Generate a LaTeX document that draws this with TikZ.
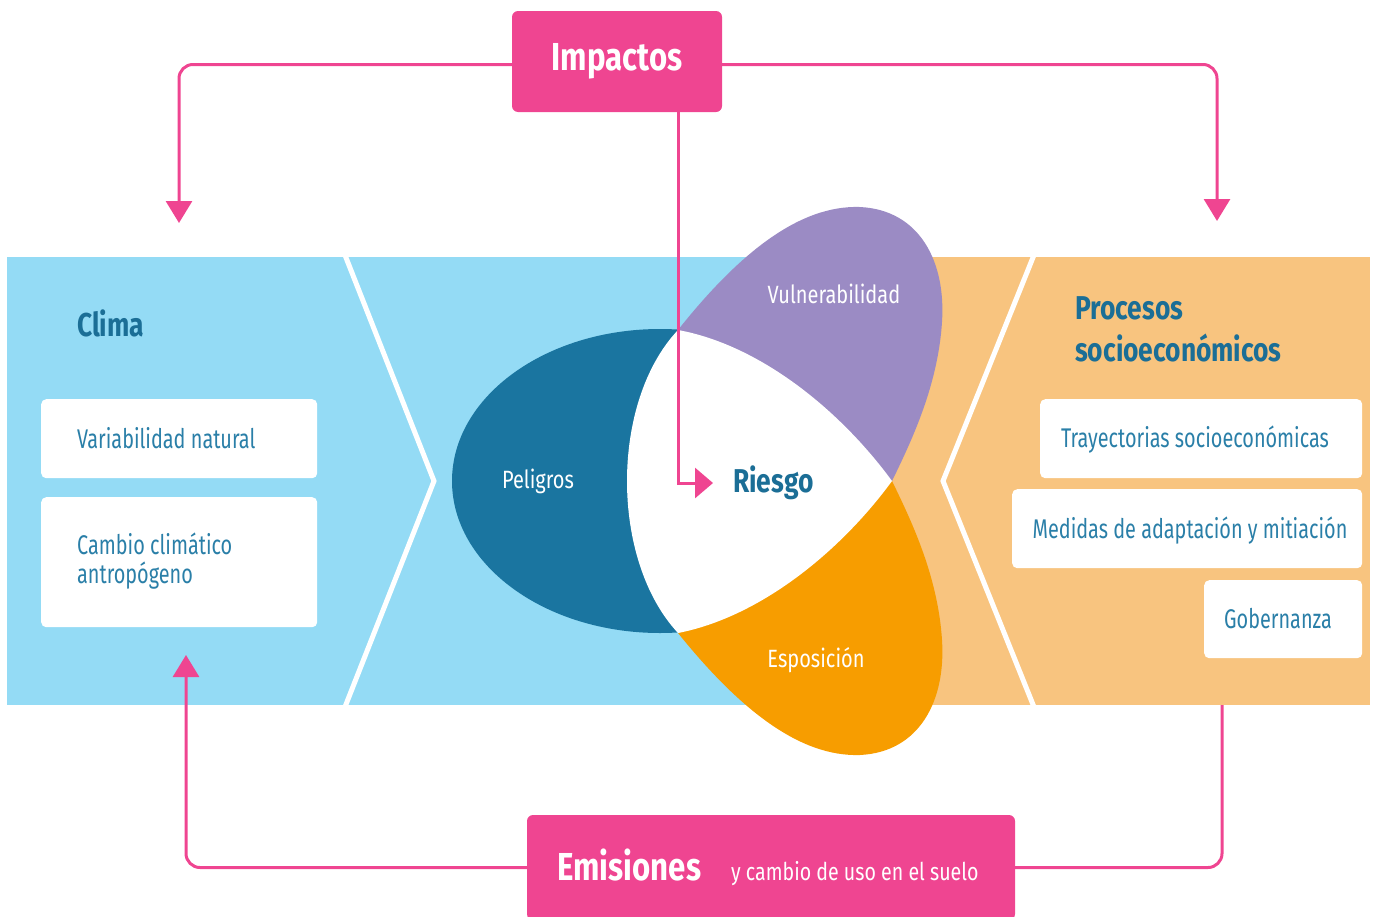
\documentclass[tikz,border=0pt]{standalone}
\usepackage{fontspec}
\setmainfont{Fira Sans}[FakeStretch=0.8]
\newfontfamily\narrowfont{Fira Sans}[FakeStretch=0.735]
\usetikzlibrary{arrows.meta}
\definecolor{pinkc}{HTML}{EF4591}
\definecolor{skyc}{HTML}{94DBF5}
\definecolor{sandc}{HTML}{F8C47F}
\definecolor{deepc}{HTML}{1A75A0}
\definecolor{lilac}{HTML}{9B8BC4}
\definecolor{amber}{HTML}{F79D00}
\definecolor{titlec}{HTML}{1B6E96}
\definecolor{itemc}{HTML}{2A7FA8}
\tikzset{
  link/.style={draw=pinkc, line width=3pt, rounded corners=14pt},
  headtip/.style={-{Triangle[width=26pt,length=22pt]}},
  itembox/.style={fill=white, rounded corners=5pt, inner sep=0pt},
  itemtext/.style={text=itemc, inner sep=0pt, font=\narrowfont\fontsize{27}{29}\selectfont},
  titletext/.style={text=titlec, inner sep=0pt, font=\bfseries\fontsize{33}{40}\selectfont},
  petaltext/.style={text=white, inner sep=0pt, font=\fontsize{25}{27}\selectfont},
  pinkbox/.style={fill=pinkc, rounded corners=6pt, inner sep=0pt, text=white},
  chevron/.style={draw=white, line width=5pt},
}
\begin{document}
\begin{tikzpicture}[x=1pt,y=-1pt]
\useasboundingbox (0,0) rectangle (1378,916);
% bands
\fill[skyc] (7,257) rectangle (860,705);
\fill[sandc] (860,257) rectangle (1370,705);
\begin{scope}
  \clip (7,257) rectangle (1370,705);
  \draw[chevron] (343,250) -- (434,481) -- (343,712);
  \draw[chevron] (1036,250) -- (943,481) -- (1036,712);
\end{scope}
% left boxes
\node[itembox, minimum width=276pt, minimum height=79pt, anchor=north west] (varbox) at (41,399) {};
\node[itembox, minimum width=276pt, minimum height=130pt, anchor=north west] (cambox) at (41,497) {};
\node[titletext, anchor=base west] (clima) at (77,336) {Clima};
\node[itemtext, anchor=base west] (vartext) at (77,448) {Variabilidad natural};
\node[itemtext, anchor=base west] (camtext1) at (77,554) {Cambio climático};
\node[itemtext, anchor=base west] (camtext2) at (77,583) {antropógeno};
% right boxes
\node[itembox, minimum width=322pt, minimum height=79pt, anchor=north west] (traybox) at (1040,399) {};
\node[itembox, minimum width=350pt, minimum height=79pt, anchor=north west] (medbox) at (1012,489) {};
\node[itembox, minimum width=158pt, minimum height=78pt, anchor=north west] (gobbox) at (1204,580) {};
\node[titletext, anchor=base west] (proc1) at (1075,319) {Procesos};
\node[titletext, anchor=base west] (proc2) at (1075,361) {socioeconómicos};
\node[itemtext, anchor=base] (traytext) at (1195,447) {Trayectorias socioeconómicas};
\node[itemtext, anchor=base] (medtext) at (1190,538) {Medidas de adaptación y mitiación};
\node[itemtext, anchor=base] (gobtext) at (1278,628) {Gobernanza};
% flower
\fill[deepc] (660,481) ellipse [x radius=208, y radius=152];
\fill[lilac] (678,330) .. controls (740,252) and (800,205) .. (860,207)
  .. controls (920,210) and (946,262) .. (942,322)
  .. controls (938,385) and (912,440) .. (892,481) -- cycle;
\fill[amber] (678,633) .. controls (740,710) and (800,757) .. (860,755)
  .. controls (920,752) and (946,700) .. (942,640)
  .. controls (938,577) and (912,522) .. (892,481) -- cycle;
\fill[white] (678,330) .. controls (760,345) and (840,410) .. (892,481)
  .. controls (840,552) and (760,617) .. (678,633)
  .. controls (610,560) and (610,402) .. (678,330) -- cycle;
\node[petaltext] (peligros) at (538,481) {Peligros};
\node[petaltext] (vulner) at (834,294) {Vulnerabilidad};
\node[petaltext] (expos) at (816,660) {Esposición};
\node[titletext, anchor=west] (riesgo) at (733,483) {Riesgo};
% pink boxes
\node[pinkbox, minimum width=210pt, minimum height=101pt, font=\bfseries\fontsize{39}{44}\selectfont] (imp) at (617,61.5) {Impactos};
\node[pinkbox, minimum width=488pt, minimum height=105pt] (emis) at (771,867.5)
  {\hspace{-6pt}{\bfseries\fontsize{39}{44}\selectfont Emisiones}\hspace{30pt}{\fontsize{24.5}{27}\selectfont y cambio de uso en el suelo}};
% connectors
\coordinate (climain) at (179,223);
\coordinate (procin) at (1217,221);
\coordinate (climaout) at (186,655);
\coordinate (procout) at (1222,705);
\coordinate (riskturn) at (678,483);
\draw[link, headtip] ([yshift=-3pt]imp.west) -| (climain);
\draw[link, headtip] ([yshift=-3pt]imp.east) -| (procin);
\draw[link, -{Triangle[width=30pt,length=18pt]}, rounded corners=0pt, shorten >=20pt] (imp.south -| riskturn) |- (riesgo.west);
\draw[link, headtip] ([yshift=0pt]emis.west) -| (climaout);
\draw[link] ([yshift=0pt]emis.east) -| (procout);
\end{tikzpicture}
\end{document}
